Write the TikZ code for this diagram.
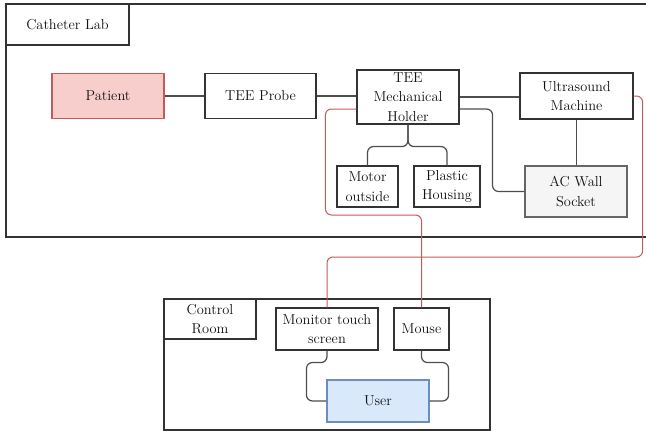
\documentclass[tikz,border=0pt]{standalone}
\usetikzlibrary{calc}
\definecolor{boxline}{HTML}{333333}
\definecolor{wireline}{HTML}{4D4D4D}
\definecolor{redline}{HTML}{C45A57}
\definecolor{redfill}{HTML}{F8CECC}
\definecolor{bluefill}{HTML}{DAE8FC}
\definecolor{blueline}{HTML}{6C8EBF}
\definecolor{grayfill}{HTML}{F5F5F5}
\definecolor{grayline}{HTML}{666666}
\definecolor{txt}{HTML}{111111}
\tikzset{
  box/.style={draw=boxline, fill=white, line width=1.1pt, inner sep=0pt,
    align=center, text=txt, font=\fontsize{14.4}{19.5}\selectfont},
  area/.style={draw=boxline, line width=1.1pt},
  wire/.style={draw=wireline, line width=1.2pt, rounded corners=6pt},
  redwire/.style={draw=redline, line width=1pt, rounded corners=6pt},
}
\begin{document}
\begin{tikzpicture}[x=1pt,y=-1pt]
\useasboundingbox (0,0) rectangle (646,431);
\begin{scope}
\clip (0,0) rectangle (646,431);
% room outlines
\draw[area] (6,4) rectangle (700,237);
\draw[area] (164,299) rectangle (490,430);
\node[box, minimum width=123pt, minimum height=41pt] (labLbl) at (67.5,24.5) {Catheter Lab};
\node[box, minimum width=92pt, minimum height=40pt] (crLbl) at (210,319) {Control\\Room};

% equipment boxes
\node[box, fill=redfill, draw=redline, minimum width=112pt, minimum height=45pt] (patient) at (108,96) {Patient};
\node[box, minimum width=111pt, minimum height=45pt] (probe) at (260.5,96) {TEE Probe};
\node[box, minimum width=102pt, minimum height=54pt] (holder) at (408,97) {TEE\\Mechanical\\Holder};
\node[box, minimum width=113pt, minimum height=46pt] (us) at (576.5,96) {Ultrasound\\Machine};
\node[box, minimum width=61pt, minimum height=41pt] (motor) at (367.5,186.5) {Motor\\outside};
\node[box, minimum width=66pt, minimum height=41pt] (plastic) at (447,186.5) {Plastic\\Housing};
\node[box, fill=grayfill, draw=grayline, minimum width=102pt, minimum height=51pt] (ac) at (576,191.5) {AC Wall\\Socket};
\node[box, minimum width=102pt, minimum height=42pt] (monitor) at (327,329) {Monitor touch\\screen};
\node[box, minimum width=55pt, minimum height=42pt] (mouse) at (421.5,329) {Mouse};
\node[box, fill=bluefill, draw=blueline, minimum width=102pt, minimum height=42pt] (user) at (378,401) {User};

% connections
\draw[wire] (patient.east) -- (probe.west);
\draw[wire] (probe.east) -- (probe.east -| holder.west);
\draw[wire] (holder.east) -- (holder.east -| us.west);
\draw[wire] (holder.south) -- ++(0,22) -| (motor.north);
\draw[wire] (holder.south) -- ++(0,22) -| (plastic.north);
\draw[wire] ([yshift=-12pt]holder.east) -- ++(33,0) |- (ac.west);
\draw[wire] (us.south) -- (us.south |- ac.north);
\draw[wire] (monitor.south) -- ++(0,12) -| ([xshift=-20pt]user.west) -- (user.west);
\draw[wire] (mouse.south) -- ++(0,12) -| ([xshift=19pt]user.east) -- (user.east);
\draw[redwire] ([yshift=-12pt]holder.west) -| ++(-31,106) -| (mouse.north);
\draw[redwire] (us.east) -| ++(9,161) -| (monitor.north);
\end{scope}
\end{tikzpicture}
\end{document}
